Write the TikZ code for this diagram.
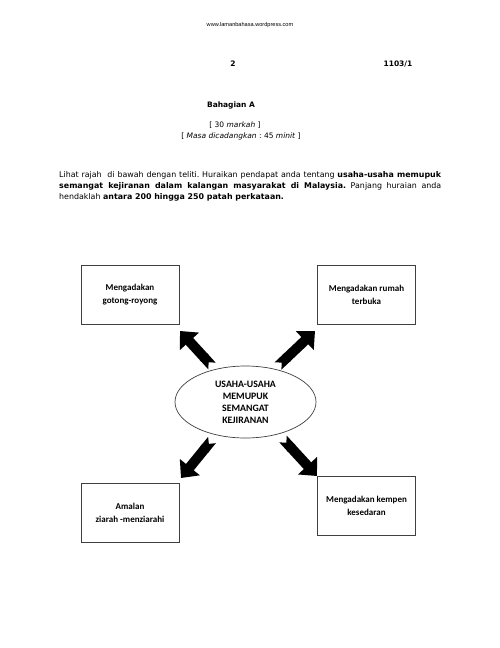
\documentclass[tikz,border=0pt]{standalone}
\usepackage{fontspec}
\setmainfont{DejaVu Sans}
\newfontfamily\urlfont{Liberation Sans}
\newfontfamily\boxfont{Carlito}
\usetikzlibrary{arrows.meta,shapes.geometric}
\frenchspacing
\begin{document}
\begin{tikzpicture}[x=1pt,y=-1pt,
  hdr/.style={font=\fontsize{7.5}{9}\selectfont\bfseries, inner sep=0pt},
  plain/.style={font=\fontsize{7.5}{9}\selectfont, inner sep=0pt},
  itembox/.style={draw=black!75, line width=0.7pt, minimum width=98pt, minimum height=59pt,
     align=center, font=\boxfont\fontsize{9}{13}\selectfont\bfseries, inner sep=0pt},
  centre/.style={draw=black!75, line width=0.7pt, ellipse, minimum width=141pt, minimum height=72pt,
     align=center, font=\boxfont\fontsize{9.8}{12}\selectfont\bfseries, inner sep=0pt},
  blockarrow/.style={line width=10pt, {Triangle Cap[reversed]}-{Triangle[width=25pt,length=14pt]}}
]
\useasboundingbox (0,0) rectangle (500,648);
\fill[white] (0,0) rectangle (500,648);
\node[inner sep=0pt, font=\urlfont\fontsize{5.6}{7}\selectfont] (url) at (250,25) {www.lamanbahasa.wordpress.com};
\node[hdr] (pg) at (233,64) {2};
\node[hdr] (code) at (398,64) {1103/1};
\node[hdr] (sec) at (231,105) {Bahagian A};
\node[plain] (marks) at (235,125) {[ 30 \textit{markah} ]};
\node[plain] (time) at (241,136) {[ \textit{Masa dicadangkan} : 45 \textit{minit} ]};
\node[anchor=north west, inner sep=0pt, text width=382pt, align=justify,
  font=\fontsize{7.9}{10.9}\selectfont] (para) at (59,171.5)
  {Lihat rajah\ \ di bawah dengan teliti. Huraikan pendapat anda tentang \textbf{usaha-usaha memupuk}\linebreak
   \textbf{semangat kejiranan dalam kalangan masyarakat di Malaysia.} Panjang huraian anda\linebreak
   hendaklah \textbf{antara 200 hingga 250 patah perkataan.}};

\node[itembox] (b1) at (130,294.5) {Mengadakan\\gotong-royong};
\node[itembox] (b2) at (366.5,294.5) {Mengadakan rumah\\terbuka};
\node[itembox] (b3) at (130,512.5) {Amalan\\ziarah -menziarahi};
\node[itembox] (b4) at (366.5,505.5) {Mengadakan kempen\\kesedaran};
\node[centre] (c) at (245.5,402) {USAHA-USAHA\\MEMUPUK\\SEMANGAT\\KEJIRANAN};

\coordinate (t1) at (212,366);
\coordinate (h1) at (180,331);
\coordinate (t2) at (278,366);
\coordinate (h2) at (315,331);
\coordinate (t3) at (212,440);
\coordinate (h3) at (181,478);
\coordinate (t4) at (283,439);
\coordinate (h4) at (317,476);
\draw[blockarrow] (t1) -- (h1);
\draw[blockarrow] (t2) -- (h2);
\draw[blockarrow] (t3) -- (h3);
\draw[blockarrow] (t4) -- (h4);
\end{tikzpicture}
\end{document}
